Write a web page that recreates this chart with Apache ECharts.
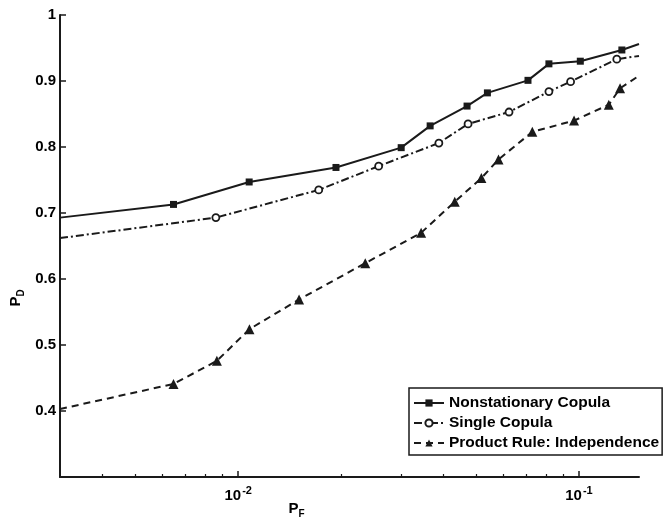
<!DOCTYPE html>
<html>
<head>
<meta charset="utf-8">
<script src="https://cdn.jsdelivr.net/npm/echarts@6/dist/echarts.min.js"></script>
<style>
  html, body { margin: 0; padding: 0; background: #fff; }
  #chart { width: 664px; height: 524px; }
</style>
</head>
<body>
<div id="chart"></div>
<script>
// P_F / P_D values (first/last points sit on the axis edges)
var nsX = [0.003, 0.00646, 0.01077, 0.01936, 0.03008, 0.03658, 0.04694, 0.05386, 0.07085, 0.08161, 0.1009, 0.1336, 0.15];
var nsY = [0.693, 0.713, 0.747, 0.769, 0.799, 0.832, 0.862, 0.882, 0.901, 0.926, 0.930, 0.947, 0.956];

var scX = [0.003, 0.0086, 0.01723, 0.02583, 0.0388, 0.04726, 0.06233, 0.08161, 0.09449, 0.1291, 0.15];
var scY = [0.662, 0.693, 0.735, 0.771, 0.806, 0.835, 0.853, 0.884, 0.899, 0.933, 0.938];

var prX = [0.003, 0.00646, 0.00866, 0.01079, 0.01509, 0.0236, 0.03442, 0.0432, 0.05172, 0.05805, 0.07296, 0.09674, 0.1223, 0.132, 0.15];
var prY = [0.403, 0.441, 0.476, 0.524, 0.569, 0.624, 0.670, 0.717, 0.753, 0.781, 0.823, 0.840, 0.864, 0.889, 0.908];

var xMin = 0.003, xMax = 0.15;
var xMajorTicks = [0.01, 0.1];
var xMinorTicks = [0.004, 0.005, 0.006, 0.007, 0.008, 0.009, 0.02, 0.03, 0.04, 0.05, 0.06, 0.07, 0.08, 0.09];
var yTicks = [0.4, 0.5, 0.6, 0.7, 0.8, 0.9, 1];

var font = 'Liberation Sans';
var ink = '#1a1a1a';

function pts(xs, ys) {
    var out = [];
    for (var i = 0; i < xs.length; i++) {
        var d = { value: [xs[i], ys[i]] };
        // edge points only carry the line to the axis limits
        if (i == 0 || i == xs.length - 1) d.symbol = 'none';
        out.push(d);
    }
    return out;
}
function lg(arr) { return arr.map(function (v) { return Math.log10(v); }); }

var chart = echarts.init(document.getElementById('chart'));
var option = {
    animation: false,
    textStyle: { fontFamily: font, fontWeight: 'bold', color: '#000' },
    grid: { left: 60, right: 25, top: 15, bottom: 47, containLabel: false, outerBoundsMode: 'none' },
    legend: {
        orient: 'vertical',
        left: 409, top: 388,
        padding: [7, 3, 4, 4],
        itemWidth: 30, itemHeight: 9, itemGap: 4,
        backgroundColor: '#fff',
        borderColor: ink, borderWidth: 1.5,
        textStyle: { fontFamily: font, fontWeight: 'bold', fontSize: 15.5, color: '#000' },
        data: ['Nonstationary Copula', 'Single Copula', 'Product Rule: Independence']
    },
    xAxis: [{
        type: 'log', min: xMin, max: xMax,
        axisLine: { lineStyle: { color: ink, width: 2 } },
        axisTick: { show: false }, axisLabel: { show: false },
        splitLine: { show: false }, minorTick: { show: false }
    }, {
        type: 'value', position: 'bottom',
        min: Math.log10(xMin), max: Math.log10(xMax),
        axisLine: { show: false },
        axisTick: { inside: true, length: 6, lineStyle: { color: ink, width: 1.5 }, customValues: lg(xMajorTicks) },
        axisLabel: {
            customValues: lg(xMajorTicks), margin: 8,
            formatter: function (v) { return '{b|10}{s|' + Math.round(v) + '}'; },
            rich: {
                b: { fontFamily: font, fontWeight: 'bold', fontSize: 15, color: '#000' },
                s: { fontFamily: font, fontWeight: 'bold', fontSize: 11, color: '#000', verticalAlign: 'top', padding: [0, 0, 10, 1] }
            }
        },
        splitLine: { show: false },
        name: '{b|P}{s|F}', nameLocation: 'middle', nameGap: 21, nameMoveOverlap: false,
        nameTextStyle: {
            padding: [0, 106, 0, 0],
            rich: {
                b: { fontFamily: font, fontWeight: 'bold', fontSize: 15, color: '#000' },
                s: { fontFamily: font, fontWeight: 'bold', fontSize: 10, color: '#000', padding: [11, 0, 0, 0] }
            }
        }
    }, {
        type: 'value', position: 'bottom',
        min: Math.log10(xMin), max: Math.log10(xMax),
        axisLine: { show: false },
        axisTick: { inside: true, length: 3, lineStyle: { color: ink, width: 1.2 }, customValues: lg(xMinorTicks) },
        axisLabel: { show: false },
        splitLine: { show: false }
    }],
    yAxis: {
        type: 'value', min: 0.3, max: 1, interval: 0.1,
        axisLine: { show: true, lineStyle: { color: ink, width: 2 } },
        axisTick: { inside: true, length: 6, lineStyle: { color: ink, width: 1.5 }, customValues: yTicks },
        axisLabel: {
            customValues: yTicks, margin: 4,
            fontFamily: font, fontWeight: 'bold', fontSize: 15, color: '#000',
            formatter: function (v) { return v == 1 ? '1' : v.toFixed(1); }
        },
        splitLine: { show: false },
        name: '{b|P}{s|D}', nameLocation: 'middle', nameGap: 34, nameMoveOverlap: false,
        nameTextStyle: {
            padding: [0, 104, 0, 0],
            rich: {
                b: { fontFamily: font, fontWeight: 'bold', fontSize: 15, color: '#000' },
                s: { fontFamily: font, fontWeight: 'bold', fontSize: 10, color: '#000', padding: [11, 0, 0, 0] }
            }
        }
    },
    series: [{
        name: 'Nonstationary Copula', type: 'line', xAxisIndex: 0,
        data: pts(nsX, nsY),
        symbol: 'rect', symbolSize: 7,
        itemStyle: { color: ink },
        lineStyle: { color: ink, width: 2, type: 'solid' }
    }, {
        name: 'Single Copula', type: 'line', xAxisIndex: 0,
        data: pts(scX, scY),
        symbol: 'circle', symbolSize: 7,
        itemStyle: { color: '#fff', borderColor: ink, borderWidth: 1.8 },
        lineStyle: { color: ink, width: 2, type: [8, 3, 2, 3] }
    }, {
        name: 'Product Rule: Independence', type: 'line', xAxisIndex: 0,
        data: pts(prX, prY),
        symbol: 'triangle', symbolSize: 10,
        itemStyle: { color: ink },
        lineStyle: { color: ink, width: 2, type: [7, 5] }
    }]
};
chart.setOption(option);
</script>
</body>
</html>
